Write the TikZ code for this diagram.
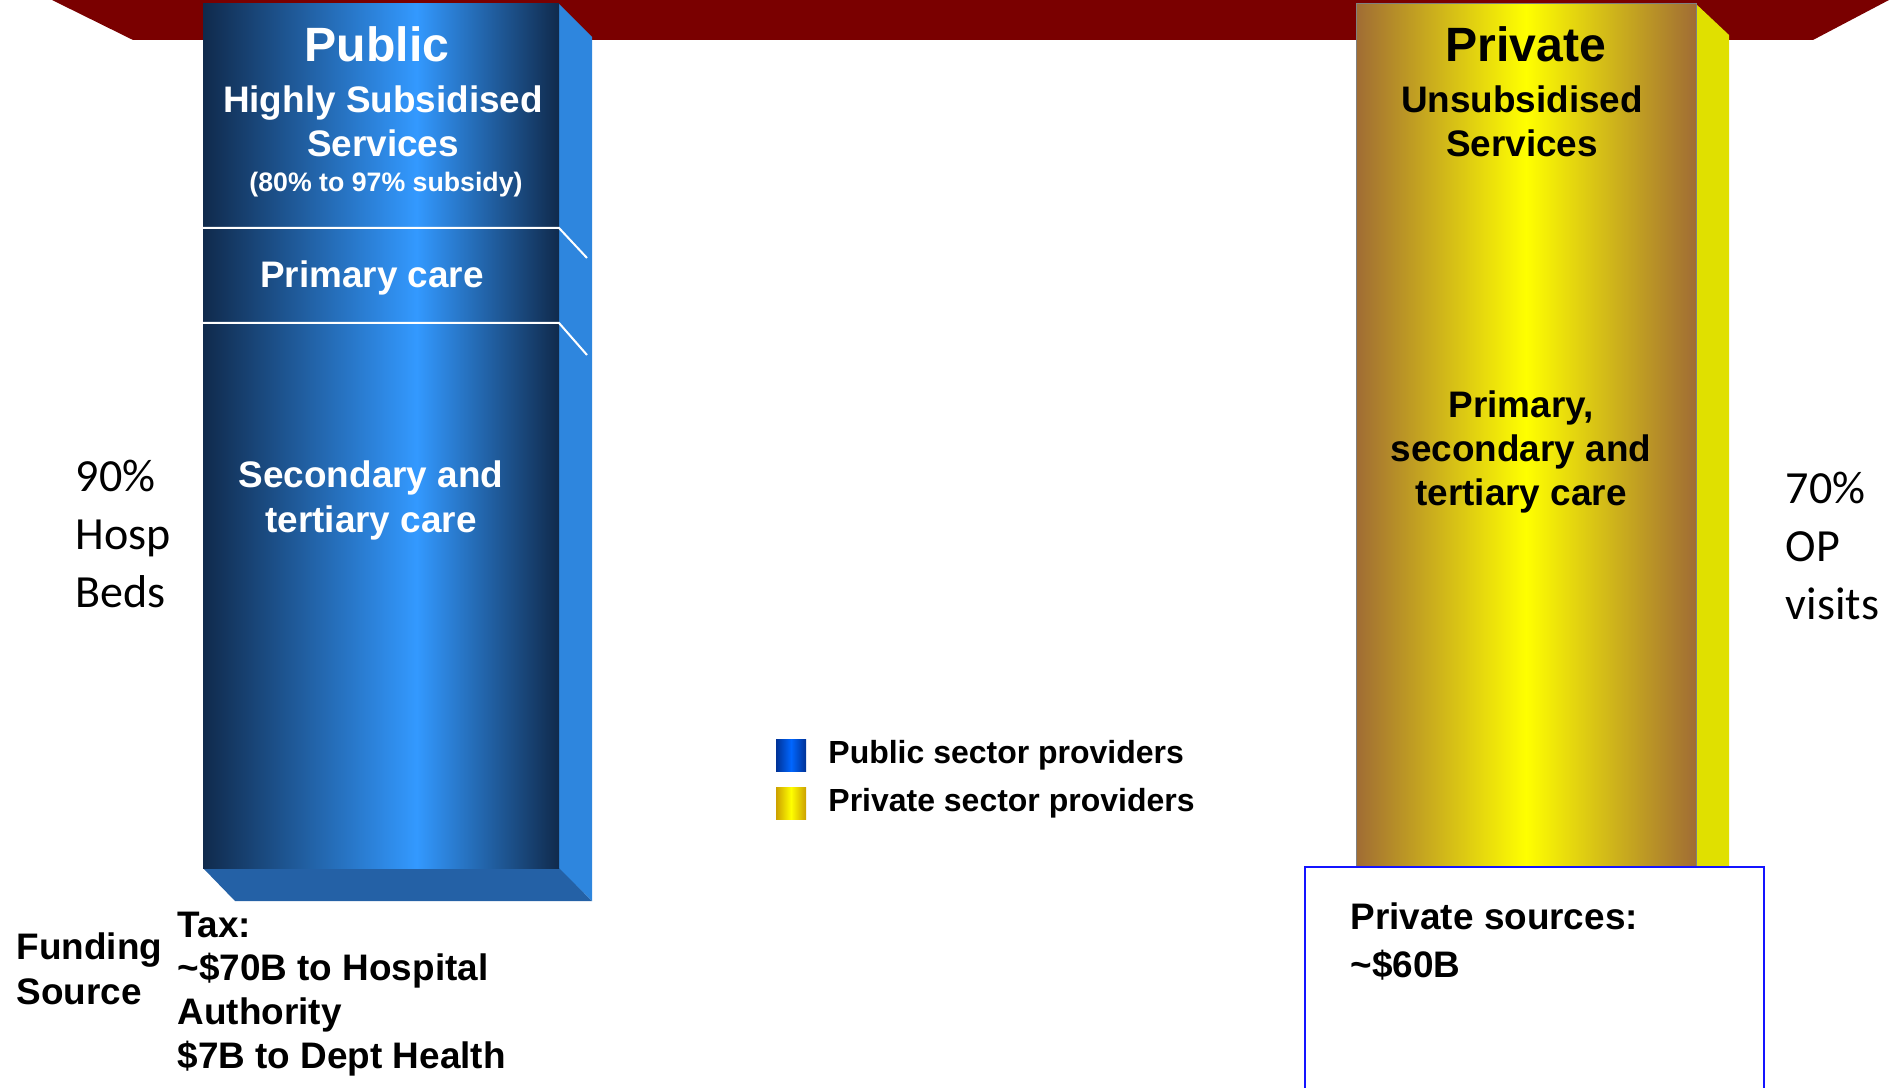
\documentclass[tikz,border=0pt]{standalone}
\usepackage{fontspec}
\setmainfont{Liberation Sans}
\newfontfamily\carlito{Carlito}
\usetikzlibrary{positioning}
\definecolor{barred}{RGB}{122,0,0}
\definecolor{pubdark}{RGB}{16,42,76}
\definecolor{pubbright}{RGB}{51,153,255}
\definecolor{pubside}{RGB}{46,134,222}
\definecolor{pubbase}{RGB}{36,97,166}
\definecolor{pvtbrown}{RGB}{160,108,52}
\definecolor{pvtyellow}{RGB}{255,255,0}
\definecolor{pvtside}{RGB}{224,224,0}
\definecolor{keyblue}{RGB}{0,50,150}
\definecolor{keybright}{RGB}{0,102,255}
\definecolor{keygold}{RGB}{204,160,0}
\definecolor{boxblue}{RGB}{20,20,255}

\pgfdeclarehorizontalshading{pubface}{100bp}{color(0bp)=(pubdark); color(25bp)=(pubdark);
  color(55bp)=(pubbright); color(75bp)=(pubdark); color(100bp)=(pubdark)}
\pgfdeclarehorizontalshading{pvtface}{100bp}{color(0bp)=(pvtbrown); color(25bp)=(pvtbrown);
  color(50bp)=(pvtyellow); color(75bp)=(pvtbrown); color(100bp)=(pvtbrown)}
\pgfdeclarehorizontalshading{pubkey}{100bp}{color(0bp)=(keyblue); color(25bp)=(keyblue);
  color(50bp)=(keybright); color(75bp)=(keyblue); color(100bp)=(keyblue)}
\pgfdeclarehorizontalshading{pvtkey}{100bp}{color(0bp)=(keygold); color(25bp)=(keygold);
  color(50bp)=(pvtyellow); color(75bp)=(keygold); color(100bp)=(keygold)}

% multi-line nodes sit on the baseline of their last line
\tikzset{
  coltitle/.style={font=\bfseries\fontsize{13.7}{16}\selectfont, inner sep=0pt, anchor=base},
  coltext/.style={font=\bfseries\fontsize{10.5}{12.6}\selectfont, align=center, inner sep=0pt, anchor=base},
  fundtext/.style={font=\bfseries\fontsize{10.5}{12.4}\selectfont, align=left, inner sep=0pt, anchor=base west},
  sharetext/.style={font=\carlito\fontsize{13.1}{16.5}\selectfont, align=left, inner sep=0pt, anchor=base west},
  keysq/.style={shade, minimum width=3mm, minimum height=3.2mm, inner sep=0pt},
  keytext/.style={font=\bfseries\fontsize{9.1}{10}\selectfont, inner sep=0pt, anchor=west}
}

\begin{document}
\begin{tikzpicture}[x=0.1mm,y=-0.1mm]
\useasboundingbox (0,0) rectangle (1893,1088);

% top bar
\fill[barred] (52,0) -- (1889,0) -- (1813,40) -- (133,40) -- cycle;

% public column
\fill[pubbase] (203,868) -- (560,868) -- (592,901) -- (235,901) -- cycle;
\fill[pubside] (559,4) -- (592,37) -- (592,901) -- (559,868) -- cycle;
\shade[shading=pubface] (203,4) rectangle (559,868);
\draw[white,line width=0.2mm] (203,228) -- (559,228) -- (587,258);
\draw[white,line width=0.2mm] (203,323) -- (559,323) -- (587,355);

\node[coltitle,white] (pubtitle) at (377,62) {Public};
\node[coltext,white] (pubsub) at (383,157) {Highly Subsidised\\Services};
\node[coltext,white,font=\bfseries\fontsize{7.6}{9}\selectfont] (pubpct) at (386,192) {(80\% to 97\% subsidy)};
\node[coltext,white] (pubprim) at (372,288) {Primary care};
\node[coltext,white] (pubsec) at (371,532) {Secondary and\\tertiary care};

% private column
\fill[pvtside] (1696,4) -- (1729,35) -- (1729,866) -- (1696,866) -- cycle;
\shade[shading=pvtface,draw=gray,line width=0.1mm] (1356,4) rectangle (1696,866);

\node[coltitle] (pvttitle) at (1526,62) {Private};
\node[coltext] (pvtsub) at (1522,157) {Unsubsidised\\Services};
\node[coltext] (pvtcare) at (1521,506) {Primary,\\secondary and\\tertiary care};

% shares
\node[sharetext] (beds) at (75,607) {90\%\\Hosp\\Beds};
\node[sharetext] (visits) at (1785,619) {70\%\\OP\\visits};

% legend
\node[keysq,shading=pubkey] (pubkey) at (791,755) {};
\node[keysq,shading=pvtkey] (pvtkey) at (791,803) {};
\node[keytext,right=2.1mm of pubkey] (pubkeytext) {Public sector providers};
\node[keytext,right=2.1mm of pvtkey] (pvtkeytext) {Private sector providers};

% funding
\node[fundtext,font=\bfseries\fontsize{10.5}{12.7}\selectfont] (funding) at (16,1004) {Funding\\Source};
\node[fundtext] (tax) at (177,1068) {Tax:\\\textasciitilde\$70B to Hospital\\Authority\\\$7B to Dept Health};

\draw[boxblue,line width=0.15mm,fill=white] (1305,867) rectangle (1764,1100);
\node[fundtext,font=\bfseries\fontsize{10.5}{13.4}\selectfont] (pvtsrc) at (1350,977) {Private sources:\\\textasciitilde\$60B};
\end{tikzpicture}
\end{document}
